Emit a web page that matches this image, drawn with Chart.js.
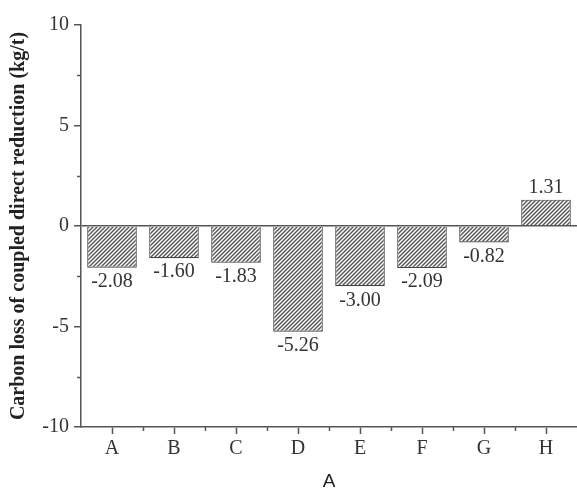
<!DOCTYPE html>
<html>
<head>
<meta charset="utf-8">
<script src="https://cdn.jsdelivr.net/npm/chart.js@4.4.0/dist/chart.umd.min.js"></script>
<style>
  html, body { margin: 0; padding: 0; background: #fff; }
  #wrap { width: 577px; height: 495px; }
</style>
</head>
<body>
<div id="wrap"><canvas id="grafico" width="577" height="495"></canvas></div>
<script>
// datos del gráfico
const categorias = ['A', 'B', 'C', 'D', 'E', 'F', 'G', 'H'];
const valores = [-2.08, -1.60, -1.83, -5.26, -3.00, -2.09, -0.82, 1.31];
const etiquetasValor = ['-2.08', '-1.60', '-1.83', '-5.26', '-3.00', '-2.09', '-0.82', '1.31'];
const ticksY = [-10, -5, 0, 5, 10];
const ticksMenoresY = [-7.5, -2.5, 2.5, 7.5];

const colorEje = '#555';
const colorTexto = '#333';
const fuenteSerif = '"Liberation Serif", "Times New Roman", serif';

// patrón rayado
function crearRayado() {
    const c = document.createElement('canvas');
    c.width = 4; c.height = 4;
    const g = c.getContext('2d');
    g.fillStyle = '#fff';
    g.fillRect(0, 0, 4, 4);
    g.strokeStyle = '#555';
    g.lineWidth = 1.4;
    g.beginPath();
    g.moveTo(0, 4); g.lineTo(4, 0);
    g.moveTo(-1, 1); g.lineTo(1, -1);
    g.moveTo(3, 5); g.lineTo(5, 3);
    g.stroke();
    return g.createPattern(c, 'repeat');
}

// etiquetas de valor y marcas menores
const pluginExtras = {
    id: 'extras',
    afterDatasetsDraw(chart) {
        const ctx = chart.ctx;
        const meta = chart.getDatasetMeta(0);
        ctx.save();
        ctx.font = '20px ' + fuenteSerif;
        ctx.fillStyle = colorTexto;
        ctx.textAlign = 'center';
        ctx.textBaseline = 'middle';
        meta.data.forEach((bar, i) => {
            const v = valores[i];
            const y = v < 0 ? bar.y + 14 : bar.y - 12;
            ctx.fillText(etiquetasValor[i], bar.x, y);
        });
        ctx.restore();
    },
    afterDraw(chart) {
        const ctx = chart.ctx;
        const sy = chart.scales.y, sx = chart.scales.x;
        const area = chart.chartArea;
        ctx.save();
        ctx.strokeStyle = colorEje;
        ctx.lineWidth = 1.5;
        ctx.beginPath();
        ticksMenoresY.forEach(v => {
            const p = Math.round(sy.getPixelForValue(v)) + 0.5;
            ctx.moveTo(area.left - 4, p); ctx.lineTo(area.left, p);
        });
        for (let i = 1; i < categorias.length; i++) {
            const p = Math.round((sx.getPixelForValue(i - 1) + sx.getPixelForValue(i)) / 2) + 0.5;
            ctx.moveTo(p, area.bottom); ctx.lineTo(p, area.bottom + 4);
        }
        ctx.stroke();
        ctx.restore();
    }
};

const ctx = document.getElementById('grafico').getContext('2d');
new Chart(ctx, {
    type: 'bar',
    data: {
        labels: categorias,
        datasets: [{
            data: valores,
            backgroundColor: crearRayado(),
            borderColor: '#444',
            borderWidth: 1.2,
            barPercentage: 0.8,
            categoryPercentage: 1.0
        }]
    },
    options: {
        responsive: false,
        animation: false,
        layout: { padding: { top: 25, right: 0, bottom: 0, left: 0 } },
        plugins: { legend: { display: false }, tooltip: { enabled: false } },
        scales: {
            x: {
                grid: { display: true, drawOnChartArea: false, offset: false, tickLength: 7, tickColor: colorEje, tickWidth: 1.5 },
                border: { color: colorEje, width: 1.5 },
                ticks: { color: colorTexto, font: { family: fuenteSerif, size: 20 }, padding: 3, maxRotation: 0 },
                title: { display: true, text: 'A', color: '#222', font: { family: '"Liberation Sans", Arial, sans-serif', size: 19 }, padding: { top: 4, bottom: 2 } },
                afterFit: s => { s.height = 68; }
            },
            y: {
                min: -10, max: 10,
                afterBuildTicks: s => { s.ticks = ticksY.map(v => ({ value: v })); },
                grid: {
                    drawOnChartArea: true,
                    color: c => (c.tick && c.tick.value === 0) ? colorEje : 'transparent',
                    lineWidth: 1.5,
                    tickColor: colorEje, tickWidth: 1.5, tickLength: 7
                },
                border: { color: colorEje, width: 1.5 },
                ticks: { color: colorTexto, font: { family: fuenteSerif, size: 20 }, padding: 5 },
                title: { display: true, text: 'Carbon loss of coupled direct reduction (kg/t)', color: '#222', font: { family: fuenteSerif, size: 20, weight: 'bold' }, padding: { top: 7, bottom: 6 } },
                afterFit: s => { s.width = 81; }
            }
        }
    },
    plugins: [pluginExtras]
});
</script>
</body>
</html>
